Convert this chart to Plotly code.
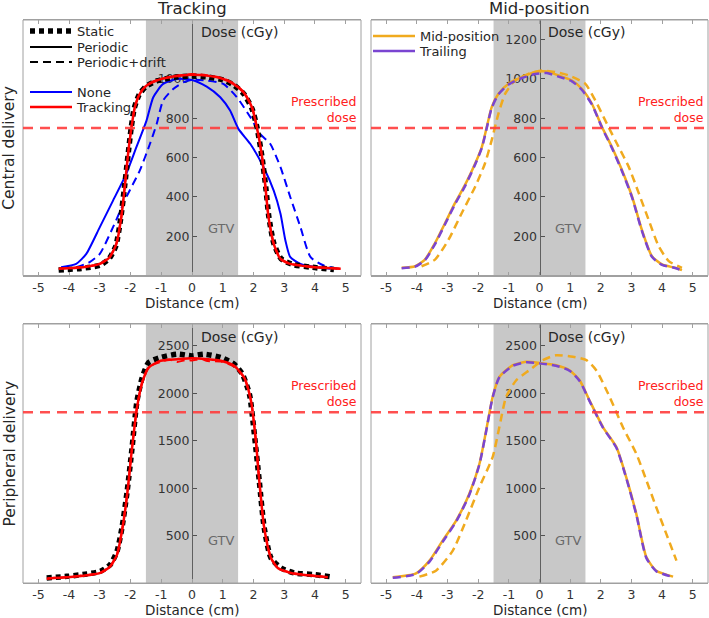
import plotly.graph_objects as go

# ---------------- data (cm, cGy) ----------------
# Top-left: central delivery, tracking
tl_static_x = [-4.34, -3.6, -3.0, -2.7, -2.48, -2.32, -2.2, -2.08, -1.98, -1.88, -1.72, -1.5, -1.15, -0.6, 0.0, 0.5, 1.0, 1.35, 1.68, 1.95, 2.12, 2.28, 2.4, 2.5, 2.66, 2.9, 3.3, 3.9, 4.62]
tl_static_y = [28, 36, 52, 85, 150, 290, 445, 615, 750, 850, 920, 962, 990, 1008, 1015, 1010, 995, 970, 925, 850, 750, 600, 450, 300, 165, 85, 55, 42, 30]
tl_none_x = [-4.26, -3.77, -3.44, -3.0, -2.57, -2.14, -1.81, -1.48, -1.26, -0.94, -0.5, 0.0, 0.48, 0.92, 1.24, 1.51, 1.9, 2.33, 2.66, 2.88, 3.04, 3.2, 3.53, 4.07, 4.51]
tl_none_y = [42, 59, 110, 246, 381, 517, 653, 788, 907, 975, 1000, 995, 961, 907, 839, 746, 669, 551, 432, 314, 178, 93, 59, 42, 34]
tl_nonedrift_x = [-3.77, -3.33, -3.0, -2.57, -2.14, -1.7, -1.37, -1.15, -0.94, -0.61, -0.28, 0.0, 0.48, 1.02, 1.46, 1.9, 2.22, 2.55, 2.88, 3.2, 3.53, 3.86, 4.29, 4.73]
tl_nonedrift_y = [42, 68, 110, 246, 398, 534, 669, 771, 890, 949, 983, 995, 992, 975, 907, 805, 720, 669, 551, 398, 246, 93, 51, 34]
tl_track_x = [-4.34, -3.55, -3.0, -2.68, -2.46, -2.3, -2.19, -2.08, -1.97, -1.86, -1.7, -1.48, -1.15, -0.61, 0.0, 0.48, 1.02, 1.35, 1.68, 1.95, 2.11, 2.28, 2.39, 2.49, 2.66, 2.88, 3.2, 3.75, 4.84]
tl_track_y = [34, 42, 59, 93, 161, 297, 449, 619, 754, 856, 924, 966, 992, 1012, 1022, 1017, 1000, 975, 932, 856, 754, 602, 449, 297, 161, 85, 59, 46, 34]
tl_trackdrift_x = [-4.3, -3.55, -3.0, -2.68, -2.46, -2.3, -2.19, -2.08, -1.97, -1.86, -1.7, -1.48, -1.15, -0.61, 0.0, 0.48, 1.02, 1.35, 1.68, 1.95, 2.11, 2.28, 2.39, 2.49, 2.66, 2.88, 3.2, 3.75, 4.8]
tl_trackdrift_y = [36, 44, 60, 95, 165, 300, 452, 622, 756, 858, 926, 968, 994, 1014, 1025, 1019, 1003, 978, 935, 859, 757, 605, 452, 300, 164, 87, 60, 47, 35]

# Top-right: central delivery, mid-position / trailing
tr_mid_x = [-4.5, -4.06, -3.74, -3.41, -3.08, -2.76, -2.43, -2.1, -1.88, -1.72, -1.56, -1.34, -1.01, -0.58, -0.14, 0.24, 0.62, 1.06, 1.38, 1.71, 2.04, 2.36, 2.69, 3.02, 3.34, 3.67, 4.0, 4.43, 4.65]
tr_mid_y = [39, 47, 81, 165, 267, 368, 461, 570, 655, 756, 857, 925, 976, 1009, 1035, 1038, 1018, 992, 950, 874, 756, 655, 537, 402, 233, 98, 56, 39, 27]
tr_trail_x = [-4.5, -4.06, -3.74, -3.41, -3.08, -2.76, -2.43, -2.1, -1.88, -1.72, -1.56, -1.34, -1.01, -0.58, -0.14, 0.24, 0.62, 1.06, 1.38, 1.71, 2.04, 2.36, 2.69, 3.02, 3.34, 3.67, 4.0, 4.43, 4.65]
tr_trail_y = [37, 45, 78, 160, 262, 362, 455, 565, 650, 752, 852, 922, 972, 1005, 1025, 1030, 1012, 988, 945, 870, 752, 650, 532, 398, 228, 95, 54, 38, 26]
tr_middrift_x = [-3.85, -3.41, -2.97, -2.54, -2.1, -1.78, -1.56, -1.34, -1.12, -0.8, -0.36, 0.08, 0.51, 0.95, 1.49, 1.82, 2.25, 2.58, 2.91, 3.24, 3.56, 3.89, 4.22, 4.65]
tr_middrift_y = [47, 81, 182, 317, 452, 570, 689, 824, 925, 992, 1026, 1043, 1035, 1018, 976, 891, 756, 655, 554, 419, 284, 149, 73, 39]

# Bottom-left: peripheral delivery, tracking
bl_static_x = [-4.73, -4.07, -3.42, -2.98, -2.66, -2.44, -2.28, -2.11, -1.95, -1.79, -1.62, -1.41, -1.02, -0.48, 0.0, 0.39, 0.94, 1.37, 1.64, 1.87, 2.03, 2.19, 2.35, 2.57, 2.9, 3.33, 3.99, 4.48]
bl_static_y = [53, 70, 95, 123, 194, 335, 581, 968, 1426, 1919, 2165, 2324, 2377, 2412, 2394, 2412, 2377, 2306, 2201, 1989, 1567, 1074, 581, 264, 158, 106, 88, 67]
bl_track_x = [-4.73, -4.07, -3.42, -2.98, -2.66, -2.44, -2.28, -2.11, -1.95, -1.79, -1.62, -1.41, -1.02, -0.48, 0.0, 0.5, 0.94, 1.37, 1.7, 1.92, 2.08, 2.19, 2.35, 2.57, 2.79, 3.22, 3.77, 4.42]
bl_track_y = [46, 60, 81, 106, 176, 299, 546, 933, 1426, 1849, 2113, 2271, 2342, 2359, 2370, 2359, 2342, 2289, 2165, 1919, 1496, 1074, 581, 264, 158, 106, 81, 60]
bl_trackdrift_x = [-4.7, -4.07, -3.42, -2.98, -2.66, -2.44, -2.28, -2.11, -1.95, -1.79, -1.62, -1.41, -1.02, -0.75, -0.48, -0.2, 0.0, 0.3, 0.5, 0.94, 1.37, 1.7, 1.92, 2.08, 2.19, 2.35, 2.57, 2.79, 3.22, 3.77, 4.4]
bl_trackdrift_y = [50, 63, 85, 110, 180, 305, 552, 940, 1432, 1855, 2120, 2276, 2330, 2355, 2330, 2350, 2345, 2362, 2340, 2335, 2280, 2160, 1925, 1500, 1080, 586, 268, 160, 108, 84, 62]

# Bottom-right: peripheral delivery, mid-position / trailing
br_mid_x = [-4.79, -4.03, -3.59, -3.16, -2.72, -2.29, -1.96, -1.74, -1.53, -1.31, -0.87, -0.44, 0.0, 0.54, 0.98, 1.31, 1.63, 2.07, 2.51, 2.83, 3.16, 3.49, 3.81, 4.36]
br_mid_y = [60, 102, 236, 447, 658, 940, 1257, 1609, 1961, 2173, 2296, 2331, 2320, 2296, 2243, 2137, 1926, 1644, 1433, 1116, 729, 271, 130, 67]
br_trail_x = [-4.79, -4.03, -3.59, -3.16, -2.72, -2.29, -1.96, -1.74, -1.53, -1.31, -0.87, -0.44, 0.0, 0.54, 0.98, 1.31, 1.63, 2.07, 2.51, 2.83, 3.16, 3.49, 3.81, 4.36]
br_trail_y = [55, 95, 225, 435, 648, 930, 1250, 1600, 1955, 2168, 2290, 2326, 2315, 2290, 2238, 2130, 1920, 1638, 1425, 1108, 720, 262, 125, 62]
br_middrift_x = [-3.92, -3.38, -2.83, -2.4, -1.96, -1.53, -1.31, -1.09, -0.76, -0.33, 0.11, 0.54, 1.09, 1.53, 1.85, 2.29, 2.72, 3.16, 3.49, 3.81, 4.14, 4.47]
br_middrift_y = [67, 130, 342, 658, 1011, 1327, 1644, 1961, 2137, 2243, 2349, 2401, 2384, 2349, 2243, 1961, 1644, 1363, 1081, 799, 518, 236]

x_ticks = [-5, -4, -3, -2, -1, 0, 1, 2, 3, 4, 5]
x_ticklabels = ["-5", "-4", "-3", "-2", "-1", "0", "1", "2", "3", "4", "5"]
tl_yticks = [200, 400, 600, 800, 1000]
tr_yticks = [200, 400, 600, 800, 1000, 1200]
b_yticks = [500, 1000, 1500, 2000, 2500]
prescribed_top = 750
prescribed_bottom = 1800
gtv_half = 1.5

col_titles = ["Tracking", "Mid-position"]
row_titles = ["Central delivery", "Peripheral delivery"]

# ---------------- style ----------------
W, H = 709, 618
BLUE = "#0000ff"
RED = "#ff0000"
ORANGE = "#f0aa1e"
PURPLE = "#7a45d1"
TXT = "#262626"
TICK = "#333333"
BOX = "#a0a0a0"

XR = [-5.5, 5.5]
YR_TOP = [0, 1300]
YR_BOT = [0, 2730]

def px_x(p):
    return p / W

def px_y(p):
    return 1 - p / H

dom_x = [[px_x(23), px_x(361)], [px_x(371), px_x(708)]]
dom_y = [[px_y(275.5), px_y(20)], [px_y(583), px_y(324)]]

fig = go.Figure()

panels = [  # (axis suffix, col, row, yrange, yticks)
    ("", 0, 0, YR_TOP, tl_yticks),
    ("2", 1, 0, YR_TOP, tr_yticks),
    ("3", 0, 1, YR_BOT, b_yticks),
    ("4", 1, 1, YR_BOT, b_yticks),
]

layout = dict(
    width=W, height=H, margin=dict(l=0, r=0, t=0, b=0),
    paper_bgcolor="white", plot_bgcolor="white",
    font=dict(family="DejaVu Sans", color=TXT, size=12),
    showlegend=True,
)
shapes = []
annotations = []

for suf, col, row, yr, yt in panels:
    xname = "xaxis" + suf
    yname = "yaxis" + suf
    xref = "x" + suf
    yref = "y" + suf
    d0, d1 = dom_x[col]
    pos = d0 + (0 - XR[0]) / (XR[1] - XR[0]) * (d1 - d0)
    layout[xname] = dict(
        domain=dom_x[col], range=XR, anchor=yref, tickvals=x_ticks, ticktext=x_ticklabels,
        ticks="inside", ticklen=4, tickcolor=BOX, showline=True, linecolor=BOX,
        mirror="ticks", showgrid=False, zeroline=False, layer="below traces",
        tickfont=dict(size=12.5, color=TICK),
    )
    layout[yname] = dict(
        domain=dom_y[row], range=yr, anchor="free", position=pos, tickvals=yt,
        ticks="inside", ticklen=4, tickcolor="#505050", showline=True, linecolor="#606060",
        showgrid=False, zeroline=False, layer="below traces",
        tickfont=dict(size=12.5, color=TICK),
    )
    # GTV band
    shapes.append(dict(type="rect", xref=xref, yref=yref + " domain", x0=-gtv_half, x1=gtv_half,
                       y0=0, y1=1, fillcolor="#c8c8c8", line=dict(width=0), layer="below"))
    # box
    shapes.append(dict(type="rect", xref=xref + " domain", yref=yref + " domain", x0=0, x1=1,
                       y0=0, y1=1, line=dict(color=BOX, width=1), layer="above"))
    # prescribed dose line
    pres = prescribed_top if row == 0 else prescribed_bottom
    shapes.append(dict(type="line", xref=xref + " domain", yref=yref, x0=0, x1=1, y0=pres, y1=pres,
                       line=dict(color="rgba(255,60,60,0.9)", width=2.5, dash="10px,7px"), layer="above"))
    annotations.append(dict(text="Prescribed<br>dose", xref=xref + " domain", yref=yref, x=0.995, y=pres,
                            xanchor="right", yanchor="bottom", align="right", showarrow=False, yshift=1,
                            font=dict(size=12.5, color="#ff2020")))
    annotations.append(dict(text="Dose (cGy)", xref=xref, yref=yref + " domain", x=0.22,
                            y=1 - 12.5 / 256, xanchor="left", yanchor="middle", showarrow=False,
                            font=dict(size=14, color=TXT)))
    gy = 240 if row == 0 else 451
    annotations.append(dict(text="GTV", xref=xref, yref=yref, x=0.96, y=gy, xanchor="center",
                            yanchor="middle", showarrow=False, font=dict(size=13, color="#6a6a6a")))
    # x-axis title
    cx = (d0 + d1) / 2
    annotations.append(dict(text="Distance (cm)", xref="paper", yref="paper", x=cx,
                            y=px_y(303 if row == 0 else 609.5), xanchor="center", yanchor="middle",
                            showarrow=False, font=dict(size=13.5, color=TXT)))

for i, t in enumerate(col_titles):
    cx = (dom_x[i][0] + dom_x[i][1]) / 2
    annotations.append(dict(text=t, xref="paper", yref="paper", x=cx, y=px_y(9), xanchor="center",
                            yanchor="middle", showarrow=False, font=dict(size=16.5, color=TXT)))
for i, t in enumerate(row_titles):
    cy = (dom_y[i][0] + dom_y[i][1]) / 2
    annotations.append(dict(text=t, xref="paper", yref="paper", x=px_x(9), y=cy, xanchor="center",
                            yanchor="middle", textangle=-90, showarrow=False, font=dict(size=15.5, color=TXT)))

layout["shapes"] = shapes
layout["annotations"] = annotations

def add(x, y, axes, color, width, dash="solid", legend=None, name=None):
    fig.add_trace(go.Scatter(
        x=x, y=y, xaxis="x" + axes, yaxis="y" + axes, mode="lines",
        line=dict(color=color, width=width, dash=dash, shape="spline", smoothing=0.6),
        showlegend=legend is not None, legend=legend, name=name, hoverinfo="skip"))

DRIFT = "8px,5px"
STATIC = "5px,4px"

# top-left traces
add(tl_nonedrift_x, tl_nonedrift_y, "", BLUE, 2, DRIFT)
add(tl_none_x, tl_none_y, "", BLUE, 2)
add(tl_static_x, tl_static_y, "", "black", 5.5, STATIC)
add(tl_trackdrift_x, tl_trackdrift_y, "", RED, 2, DRIFT)
add(tl_track_x, tl_track_y, "", RED, 2.5)
# top-right traces
add(tr_middrift_x, tr_middrift_y, "2", ORANGE, 2.5, DRIFT)
add(tr_mid_x, tr_mid_y, "2", ORANGE, 2.5)
add(tr_trail_x, tr_trail_y, "2", PURPLE, 2.5, DRIFT)
# bottom-left traces
add(bl_static_x, bl_static_y, "3", "black", 5.5, STATIC)
add(bl_trackdrift_x, bl_trackdrift_y, "3", RED, 2, DRIFT)
add(bl_track_x, bl_track_y, "3", RED, 2.5)
# bottom-right traces
add(br_middrift_x, br_middrift_y, "4", ORANGE, 2.5, DRIFT)
add(br_mid_x, br_mid_y, "4", ORANGE, 2.5)
add(br_trail_x, br_trail_y, "4", PURPLE, 2.5, DRIFT)

# legend entries (style keys)
legend_items = [
    ("Static", "black", 5.5, STATIC, 25, 31),
    ("Periodic", "black", 2, "solid", 25, 47),
    ("Periodic+drift", "black", 2, DRIFT, 25, 62),
    ("None", BLUE, 2, "solid", 25, 92),
    ("Tracking", RED, 2.5, "solid", 25, 107),
    ("Mid-position", ORANGE, 2.5, "solid", 368, 36),
    ("Trailing", PURPLE, 2.5, "solid", 368, 51),
]
for k, (nm, c, w, d, lx, ly) in enumerate(legend_items):
    key = "legend" if k == 0 else "legend%d" % (k + 1)
    fig.add_trace(go.Scatter(x=[None], y=[None], mode="lines", name=nm, legend=key,
                             line=dict(color=c, width=w, dash=d), showlegend=True))
    layout[key] = dict(x=px_x(lx), y=px_y(ly), xanchor="left", yanchor="middle",
                       bgcolor="rgba(0,0,0,0)", borderwidth=0, itemwidth=42,
                       font=dict(size=13, color=TXT), itemclick=False)

fig.update_layout(**layout)
fig.write_html("out.html", config={"displayModeBar": False},
               post_script="document.body.style.margin='0';document.body.style.overflow='hidden';")
